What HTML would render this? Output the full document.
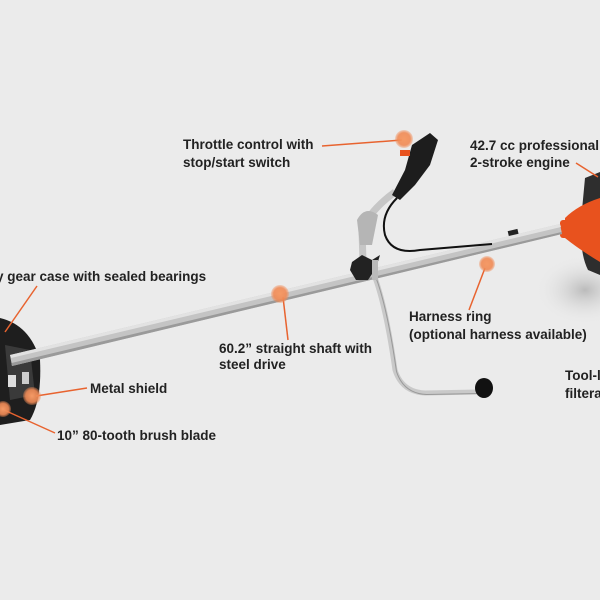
<!DOCTYPE html>
<html><head><style>
html,body{margin:0;padding:0;background:#ebebeb;}
svg{display:block}
text{font-family:"Liberation Sans",sans-serif;font-weight:bold;font-size:13.5px;fill:#222;}
</style></head><body>
<svg width="600" height="600" viewBox="0 0 600 600" xmlns="http://www.w3.org/2000/svg">
<defs>
<radialGradient id="dot" cx="50%" cy="50%" r="50%"><stop offset="0" stop-color="#f59a66"/><stop offset="0.7" stop-color="#f08a55" stop-opacity="0.9"/><stop offset="1" stop-color="#f08a55" stop-opacity="0.3"/></radialGradient>
<radialGradient id="shadow" cx="50%" cy="50%" r="50%"><stop offset="0" stop-color="#bbb"/><stop offset="1" stop-color="#ebebeb" stop-opacity="0"/></radialGradient>
</defs>
<rect width="600" height="600" fill="#ebebeb"/>
<ellipse cx="585" cy="290" rx="50" ry="35" fill="url(#shadow)"/>
<path d="M585 178 L600 172 L600 275 L588 270 Q578 250 582 210 Z" fill="#2e2e2e"/>
<path d="M565 218 Q578 205 600 198 L600 262 Q580 250 565 238 Z" fill="#e8521e"/>
<rect x="560" y="220" width="10" height="18" rx="3" fill="#e8521e"/>
<path d="M0 318 Q30 325 40 360 Q42 400 30 420 L0 425 Z" fill="#1e1e1e"/>
<path d="M5 345 L30 350 L35 395 L10 400 Z" fill="#3a3a3a"/>
<rect x="8" y="375" width="8" height="12" fill="#ddd"/>
<rect x="22" y="372" width="7" height="12" fill="#ccc"/>
<path d="M10 355 L560 224 L562 234 L12 366 Z" fill="#c4c4c4"/>
<path d="M10 355 L560 224 L561 227 L11 358 Z" fill="#e2e2e2"/>
<path d="M11.5 363 L561.5 232 L562 234 L12 366 Z" fill="#9a9a9a"/>
<rect x="508" y="230" width="10" height="5" fill="#222" transform="rotate(-13 513 232)"/>
<path d="M372 270 Q385 300 395 370 Q402 392 425 393 L478 392" fill="none" stroke="#c9c9c9" stroke-width="5"/>
<path d="M372 270 Q385 300 395 370 Q402 392 425 393 L478 392" fill="none" stroke="#999" stroke-width="1" transform="translate(1.5,1.5)"/>
<ellipse cx="484" cy="388" rx="9" ry="10" fill="#111"/>
<path d="M363 262 L362 230 Q370 210 395 192" fill="none" stroke="#c6c6c6" stroke-width="7"/>
<path d="M357 220 Q365 205 378 215 L372 245 L360 245 Z" fill="#b5b5b5"/>
<path d="M392 195 L405 170 L412 145 L430 133 L438 140 L430 165 L415 185 L400 200 Z" fill="#1d1d1d"/>
<rect x="400" y="150" width="10" height="6" fill="#e8521e"/>
<path d="M397 198 Q380 215 385 235 Q392 255 420 250 L492 244" fill="none" stroke="#111" stroke-width="2"/>
<path d="M352 262 L362 255 L372 260 L380 255 L376 268 L368 280 L356 280 L350 270 Z" fill="#222"/>
<rect x="372" y="260" width="6" height="20" fill="#bbb"/>
<g stroke="#e8632f" stroke-width="1.5" fill="none">
<line x1="322" y1="146" x2="402" y2="140"/>
<line x1="576" y1="163" x2="598" y2="177"/>
<line x1="37" y1="286" x2="5" y2="332"/>
<line x1="283" y1="297" x2="288" y2="340"/>
<line x1="485" y1="268" x2="469" y2="310"/>
<line x1="36" y1="396" x2="87" y2="388"/>
<line x1="4" y1="410" x2="55" y2="433"/>
</g>
<g fill="url(#dot)">
<circle cx="404" cy="139" r="9"/>
<circle cx="280" cy="294" r="9"/>
<circle cx="487" cy="264" r="8"/>
<circle cx="32" cy="396" r="9"/>
<circle cx="3" cy="409" r="8"/>
</g>
<text x="183" y="149">Throttle control with</text>
<text x="183" y="167">stop/start switch</text>
<text x="470" y="150">42.7 cc professional</text>
<text x="470" y="167">2-stroke engine</text>
<text x="-4" y="281">y gear case with sealed bearings</text>
<text x="219" y="353">60.2” straight shaft with</text>
<text x="219" y="369">steel drive</text>
<text x="409" y="321">Harness ring</text>
<text x="409" y="339">(optional harness available)</text>
<text x="90" y="393">Metal shield</text>
<text x="57" y="440">10” 80-tooth brush blade</text>
<text x="565" y="380">Tool-l</text>
<text x="565" y="398">filtera</text>
</svg>
</body></html>
